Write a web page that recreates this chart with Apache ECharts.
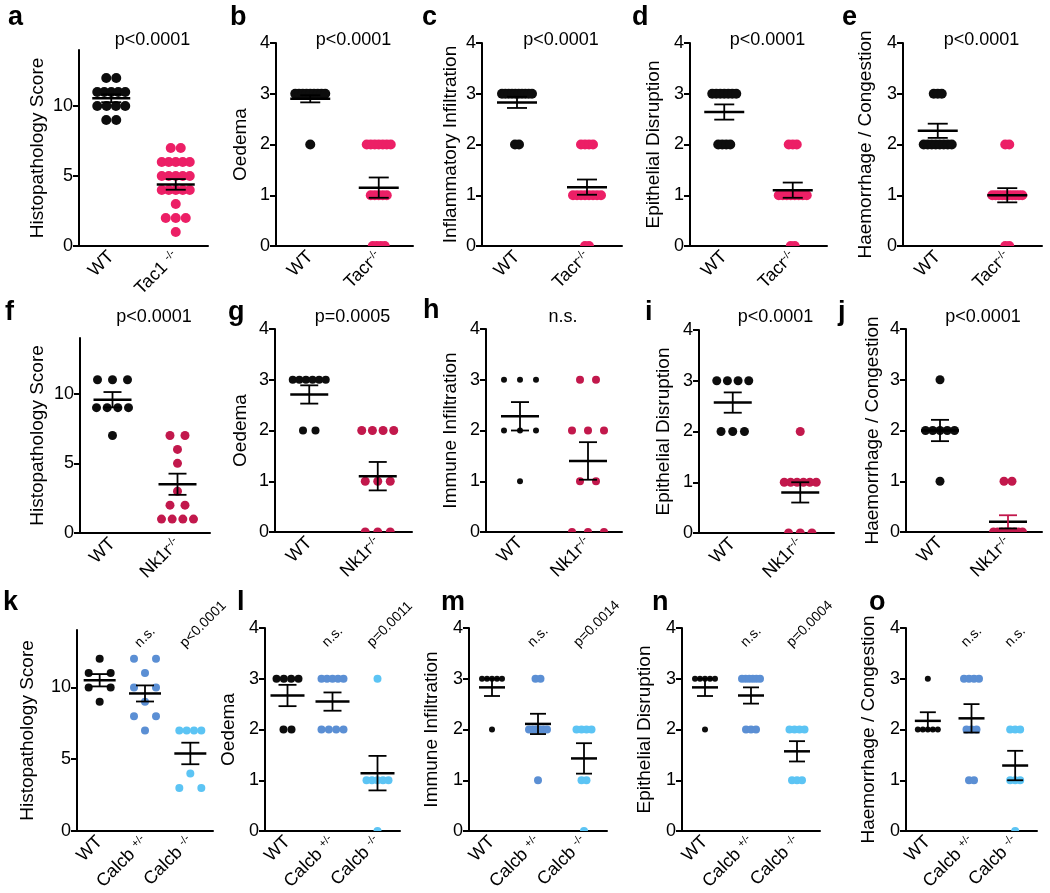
<!DOCTYPE html>
<html>
<head>
<meta charset="utf-8">
<title>Histopathology scores</title>
<script src="https://cdn.jsdelivr.net/npm/echarts@6.0.0/dist/echarts.min.js"></script>
<style>
html, body { margin: 0; padding: 0; background: #fff; }
#chart { width: 1050px; height: 893px; }
</style>
</head>
<body>
<div id="chart"></div>
<script>
var FONT = '"Liberation Sans", Arial, Helvetica, sans-serif';
var BLACK = '#0d0d0d', PINK = '#ec1f66', CRIMSON = '#c2184c', MIDBLUE = '#5b8fd4', LIGHTBLUE = '#5cc4f4';

// ---- labels ----
var letters = ['a','b','c','d','e','f','g','h','i','j','k','l','m','n','o'];
var catsTac1 = ['WT', 'Tac1 {s|-/-}'];
var catsTacr = ['WT', 'Tacr{s|-/-}'];
var catsNk1r = ['WT', 'Nk1r{s|-/-}'];
var catsCalcb = ['WT', 'Calcb {s|+/-}', 'Calcb {s|-/-}'];
var yTitles = ['Histopathology Score', 'Oedema', 'Inflammatory Infiltration', 'Epithelial Disruption', 'Haemorrhage / Congestion',
  'Histopathology Score', 'Oedema', 'Immune Infiltration', 'Epithelial Disruption', 'Haemorrhage / Congestion',
  'Histopathology Score', 'Oedema', 'Immune Infiltration', 'Epithelial Disruption', 'Haemorrhage / Congestion'];
var pTop = ['p<0.0001', 'p<0.0001', 'p<0.0001', 'p<0.0001', 'p<0.0001',
  'p<0.0001', 'p=0.0005', 'n.s.', 'p<0.0001', 'p<0.0001'];
var pCalcb = [['n.s.', 'p<0.0001'], ['n.s.', 'p=0.0011'], ['n.s.', 'p=0.0014'], ['n.s.', 'p=0.0004'], ['n.s.', 'n.s.']];

// ---- scores per animal (WT first) ----
var dots_a = [[12,12,11,11,11,11,11,10,10,10,10,9,9], [7,7,6,6,6,6,6,5,5,5,5,5,4,4,4,4,4,3,2,2,2,1]];
var dots_b = [[3,3,3,3,3,3,3,3,3,2], [2,2,2,2,2,2,2,1,1,1,1,1,0,0,0,0]];
var dots_c = [[3,3,3,3,3,3,3,3,3,3,2,2], [2,2,2,2,1,1,1,1,1,1,1,1,0,0]];
var dots_d = [[3,3,3,3,3,3,3,2,2,2,2], [2,2,2,1,1,1,1,1,1,1,1,0,0]];
var dots_e = [[3,3,3,2,2,2,2,2,2,2,2], [2,2,1,1,1,1,1,1,1,1,1,1,0,0]];
var dots_f = [[11,11,11,9,9,9,9,7], [7,7,6,5,3,2,2,1,1,1,1]];
var dots_g = [[3,3,3,3,3,3,2,2], [2,2,2,2,1,1,1,0,0,0]];
var dots_h = [[3,3,3,2,2,2,1], [3,3,2,2,2,1,1,0,0,0]];
var dots_i = [[3,3,3,3,2,2,2], [2,1,1,1,1,1,1,0,0,0]];
var dots_j = [[3,2,2,2,2,2,1], [1,1,0,0,0,0,0,0,0,0]];
var dots_k = [[12,11,11,10,10,9], [12,12,11,10,10,9,8,8,7], [7,7,7,7,4,3,3]];
var dots_l = [[3,3,3,3,2,2], [3,3,3,3,3,2,2,2,2], [3,1,1,1,1,1,0]];
var dots_m = [[3,3,3,3,3,2], [3,3,2,2,2,2,2,2,1], [2,2,2,2,1,1,0]];
var dots_n = [[3,3,3,3,3,2], [3,3,3,3,3,3,2,2,2], [2,2,2,2,1,1,1]];
var dots_o = [[3,2,2,2,2,2], [3,3,3,3,2,2,2,1,1], [2,2,2,1,1,1,0]];

// ---- mean and SEM as drawn ----
var mean_a = [10.55, 4.4],  sem_a = [0.28, 0.38];
var mean_b = [2.9, 1.15],   sem_b = [0.07, 0.2];
var mean_c = [2.83, 1.16],  sem_c = [0.11, 0.15];
var mean_d = [2.64, 1.1],   sem_d = [0.15, 0.15];
var mean_e = [2.27, 1.0],   sem_e = [0.14, 0.14];
var mean_f = [9.57, 3.5],   sem_f = [0.55, 0.76];
var mean_g = [2.71, 1.1],   sem_g = [0.18, 0.28];
var mean_h = [2.28, 1.4],   sem_h = [0.28, 0.37];
var mean_i = [2.57, 0.8],   sem_i = [0.2, 0.2];
var mean_j = [2.0, 0.2],    sem_j = [0.21, 0.13];
var mean_k = [10.5, 9.58, 5.4],  sem_k = [0.43, 0.56, 0.75];
var mean_l = [2.67, 2.55, 1.14], sem_l = [0.21, 0.18, 0.34];
var mean_m = [2.83, 2.11, 1.43], sem_m = [0.17, 0.2, 0.3];
var mean_n = [2.83, 2.67, 1.57], sem_n = [0.17, 0.16, 0.2];
var mean_o = [2.17, 2.22, 1.29], sem_o = [0.17, 0.28, 0.29];

var panels = [
  [dots_a, mean_a, sem_a, catsTac1], [dots_b, mean_b, sem_b, catsTacr], [dots_c, mean_c, sem_c, catsTacr],
  [dots_d, mean_d, sem_d, catsTacr], [dots_e, mean_e, sem_e, catsTacr],
  [dots_f, mean_f, sem_f, catsNk1r], [dots_g, mean_g, sem_g, catsNk1r], [dots_h, mean_h, sem_h, catsNk1r],
  [dots_i, mean_i, sem_i, catsNk1r], [dots_j, mean_j, sem_j, catsNk1r],
  [dots_k, mean_k, sem_k, catsCalcb], [dots_l, mean_l, sem_l, catsCalcb], [dots_m, mean_m, sem_m, catsCalcb],
  [dots_n, mean_n, sem_n, catsCalcb], [dots_o, mean_o, sem_o, catsCalcb]
];

// ---- layout / style ----
var gridBox = [
  [79, 50, 129, 196], [276, 43, 137, 203], [482, 43, 140, 203], [690, 43, 137, 203], [903, 43, 139, 203],
  [80, 338, 130, 195], [275, 329, 137, 203], [486, 329, 136, 203], [699, 330, 135, 203], [906, 329, 136, 203],
  [77, 630, 136, 201], [265, 628, 135, 203], [469, 628, 138, 203], [682, 628, 138, 203], [906, 628, 131, 203]
];
var nameGaps = [32, 26, 22, 27, 28, 33, 25, 26, 26, 24, 40, 27, 28, 28, 28];
var rowColors = [[BLACK, PINK], [BLACK, CRIMSON], [BLACK, MIDBLUE, LIGHTBLUE]];
var dotSize = [[10,10],[10,10],[10,10],[10,10],[10,10],[9,9],[8,9],[6,8],[9,9],[9,9],
  [8,8,8],[8,8,8],[6,8,8],[6,8,8],[6,8,8]];
var swarmW = [38, 40, 40, 40, 40, 41, 41, 42, 41, 38, 30, 30, 26, 26, 26];
var swarmSp = [10, 4, 4, 4, 4, 15, 12.5, 16, 11.7, 8, 22, 8, 5, 5, 5];
var meanHalf = [19, 20, 20, 20, 20, 19, 19, 19, 19, 19, 16, 17, 13, 13, 13];
var capHalf = [10, 10, 10, 10, 10, 9, 9, 9, 9, 9, 9, 9, 8, 8, 8];
var letterPos = [[8,31],[230,31],[422,31],[632,31],[842,31],[5,326],[228,326],[423,324],[645,326],[838,326],
  [3,616],[237,616],[441,616],[652,616],[869,616]];

function swarm(vals, cat, size, W, sp) {
  var counts = {}, seen = {}, out = [];
  vals.forEach(function (v) { counts[v] = (counts[v] || 0) + 1; });
  vals.forEach(function (v) {
    var n = counts[v], k = seen[v] || 0;
    seen[v] = k + 1;
    var step = n > 1 ? Math.min(sp, (W - size) / (n - 1)) : 0;
    out.push([cat, v, (k - (n - 1) / 2) * step]);
  });
  return out;
}

function dotRenderer(size, color) {
  return function (params, api) {
    var c = api.coord([api.value(0), api.value(1)]);
    return { type: 'circle', shape: { cx: c[0] + api.value(2), cy: c[1], r: size / 2 }, style: { fill: color } };
  };
}

function errRenderer(i) {
  return function (params, api) {
    var x = api.value(0), m = api.value(1), s = api.value(2);
    var c = api.coord([x, m]), hi = api.coord([x, m + s]), lo = api.coord([x, m - s]);
    var mw = meanHalf[i], cw = capHalf[i];
    var col = (i === 9 && x === 1) ? CRIMSON : '#000';
    return { type: 'group', children: [
      { type: 'line', shape: { x1: c[0] - mw, y1: c[1], x2: c[0] + mw, y2: c[1] }, style: { stroke: '#000', lineWidth: 2.5 } },
      { type: 'line', shape: { x1: hi[0], y1: hi[1], x2: lo[0], y2: lo[1] }, style: { stroke: col, lineWidth: 1.8 } },
      { type: 'line', shape: { x1: hi[0] - cw, y1: hi[1], x2: hi[0] + cw, y2: hi[1] }, style: { stroke: col, lineWidth: 1.8 } },
      { type: 'line', shape: { x1: lo[0] - cw, y1: lo[1], x2: lo[0] + cw, y2: lo[1] }, style: { stroke: '#000', lineWidth: 1.8 } }
    ] };
  };
}

var grids = [], xAxes = [], yAxes = [], series = [];
panels.forEach(function (p, i) {
  var histo = i % 5 === 0;
  var g = gridBox[i];
  var colors = rowColors[Math.floor(i / 5)];
  grids.push({ left: g[0], top: g[1], width: g[2], height: g[3] });
  xAxes.push({
    gridIndex: i, type: 'category', data: p[3], boundaryGap: true,
    axisLine: { lineStyle: { color: '#000', width: 2 } },
    axisTick: { alignWithLabel: true, interval: 0, length: 8, lineStyle: { color: '#000', width: 2 } },
    axisLabel: { interval: 0, rotate: 45, margin: 8, color: '#000', fontSize: 18, fontFamily: FONT,
      rich: { s: { fontSize: 11, verticalAlign: 'top', fontFamily: FONT, color: '#000' } } },
    splitLine: { show: false }
  });
  var yl = {
    gridIndex: i, type: 'value', min: 0, max: histo ? 14 : 4, interval: histo ? 5 : 1,
    name: yTitles[i], nameLocation: 'middle', nameGap: nameGaps[i],
    nameTextStyle: { fontSize: 19, color: '#000', fontFamily: FONT },
    axisLine: { show: true, lineStyle: { color: '#000', width: 2 } },
    axisTick: { show: true, length: 6, lineStyle: { color: '#000', width: 2 } },
    axisLabel: { margin: 6, color: '#000', fontSize: 18, fontFamily: FONT },
    splitLine: { show: false }
  };
  if (histo) {
    yl.axisTick.customValues = [0, 5, 10];
    yl.axisLabel.customValues = [0, 5, 10];
  }
  yAxes.push(yl);
  p[0].forEach(function (vals, gi) {
    series.push({
      type: 'custom', xAxisIndex: i, yAxisIndex: i, clip: true, z: 2,
      data: swarm(vals, gi, dotSize[i][gi], swarmW[i], swarmSp[i]),
      renderItem: dotRenderer(dotSize[i][gi], colors[gi])
    });
  });
  series.push({
    type: 'custom', xAxisIndex: i, yAxisIndex: i, clip: false, z: 3,
    data: p[1].map(function (m, gi) { return [gi, m, p[2][gi]]; }),
    renderItem: errRenderer(i)
  });
});

var chart = echarts.init(document.getElementById('chart'));
chart.setOption({
  animation: false,
  backgroundColor: '#fff',
  textStyle: { fontFamily: FONT },
  grid: grids, xAxis: xAxes, yAxis: yAxes, series: series
});

// panel letters and p-values, placed through the axes
var gfx = [];
letters.forEach(function (l, i) {
  gfx.push({ type: 'text', x: letterPos[i][0], y: letterPos[i][1],
    style: { text: l, fill: '#000', font: 'bold 27px ' + FONT, textVerticalAlign: 'bottom', verticalAlign: 'bottom' } });
});
pTop.forEach(function (t, i) {
  var a = chart.convertToPixel({ gridIndex: i }, [0, 0]);
  var b = chart.convertToPixel({ gridIndex: i }, [1, 0]);
  gfx.push({ type: 'text', x: (a[0] + b[0]) / 2 + 9, y: i < 5 ? 40 : 317,
    style: { text: t, fill: '#000', font: '18px ' + FONT, textAlign: 'center', align: 'center',
      textVerticalAlign: 'middle', verticalAlign: 'middle' } });
});
pCalcb.forEach(function (pair, j) {
  var i = 10 + j;
  pair.forEach(function (t, k) {
    var pt = chart.convertToPixel({ gridIndex: i }, [k + 1, j === 0 ? 12.6 : 3.57]);
    gfx.push({ type: 'text', x: pt[0] - 3, y: pt[1], rotation: Math.PI / 4,
      style: { text: t, fill: '#000', font: '14px ' + FONT, textAlign: 'left', align: 'left',
        textVerticalAlign: 'bottom', verticalAlign: 'bottom' } });
  });
});
chart.setOption({ graphic: gfx });
</script>
</body>
</html>
